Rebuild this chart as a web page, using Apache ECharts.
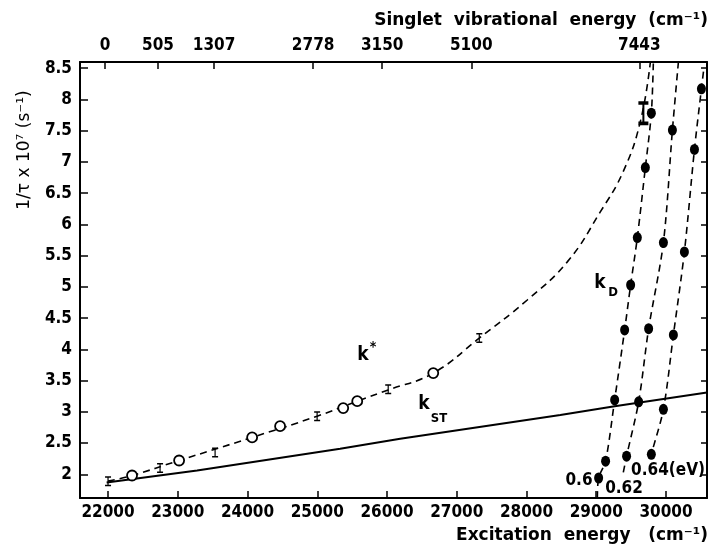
<!DOCTYPE html>
<html><head><meta charset="utf-8">
<script src="https://cdn.jsdelivr.net/npm/echarts@6/dist/echarts.min.js"></script>
<style>html,body{margin:0;padding:0;background:#fff}#c{width:710px;height:546px}</style>
</head><body><div id="c"></div>
<script>
// ---- data ----
const xTickValues = [22000,23000,24000,25000,26000,27000,28000,29000,30000];
const yTickValues = [2,2.5,3,3.5,4,4.5,5,5.5,6,6.5,7,7.5,8,8.5];
const topTickExcitation = [21957,22717,23521,24941,25931,27208,29618];
const topTickLabels = ['0','505','1307','2778','3150','5100','7443'];

const kStarCurve = [[22000,1.89],[22344,1.98],[23019,2.22],[24066,2.59],[24998,2.93],[25573,3.17],[26017,3.35],[26663,3.62],[27323,4.18],[28011,4.79],[28585,5.4],[29058,6.2],[29388,6.85],[29633,7.65],[29776,8.6]];
const kStarCircles = [[22344,1.98],[23019,2.22],[24066,2.59],[24467,2.77],[25372,3.06],[25573,3.17],[26663,3.62]];
const kStarBars = [[22000,1.89],[22746,2.10],[23535,2.35],[24998,2.93],[26017,3.36],[27323,4.18]];
const kStarBigBar = [[29676,7.78]];

const kSTLine = [[21980,1.87],[23277,2.06],[25328,2.41],[26189,2.57],[28485,2.95],[29264,3.09],[30588,3.31]];

const kD060Curve = [[29016,1.62],[29034,1.94],[29134,2.21],[29264,3.19],[29407,4.31],[29493,5.03],[29589,5.79],[29704,6.91],[29790,7.78],[29819,8.6]];
const kD060Dots = [[29034,1.94],[29134,2.21],[29264,3.19],[29407,4.31],[29493,5.03],[29589,5.79],[29704,6.91],[29790,7.78]];
const kD062Curve = [[29388,2.03],[29435,2.29],[29608,3.16],[29751,4.33],[29963,5.71],[30092,7.51],[30178,8.6]];
const kD062Dots = [[29435,2.29],[29608,3.16],[29751,4.33],[29963,5.71],[30092,7.51]];
const kD064Curve = [[29777,2.25],[29790,2.32],[29963,3.04],[30106,4.23],[30264,5.56],[30408,7.20],[30508,8.17],[30538,8.45]];
const kD064Dots = [[29790,2.32],[29963,3.04],[30106,4.23],[30264,5.56],[30408,7.20],[30508,8.17]];

// ---- chart ----
const F = "'DejaVu Sans Condensed','DejaVu Sans',sans-serif";
const FT = "'DejaVu Sans','DejaVu Sans Condensed',sans-serif";
const chart = echarts.init(document.getElementById('c'), null, {renderer:'canvas'});
const XMIN = 21598, XMAX = 30588, YMIN = 1.62, YMAX = 8.6;
const axLine = {show:true, lineStyle:{color:'#000', width:2}};
const dash = {color:'#000', width:1.6, type:[7,5]};
const barPath = 'path://M0,0H10V1.8H6V10.2H10V12H0V10.2H4V1.8H0Z';
const tickLab = {color:'#000', fontFamily:F, fontWeight:'bold', fontSize:17};

const option = {
  animation:false,
  backgroundColor:'#fff',
  grid:{left:80, right:3, top:62, bottom:48, containLabel:false},
  xAxis:[
    {type:'value', min:XMIN, max:XMAX, position:'bottom', axisLine:axLine,
     splitLine:{show:false},
     axisTick:{show:true, inside:true, length:7, customValues:xTickValues, lineStyle:{color:'#000',width:1.5}},
     axisLabel:Object.assign({customValues:xTickValues, margin:6, formatter:function(v){return String(v);}}, tickLab)},
    {type:'value', min:XMIN, max:XMAX, position:'top', axisLine:axLine,
     splitLine:{show:false},
     axisTick:{show:true, inside:true, length:7, customValues:topTickExcitation, lineStyle:{color:'#000',width:1.5}},
     axisLabel:Object.assign({customValues:topTickExcitation, margin:8,
       formatter:function(v){const i=topTickExcitation.indexOf(v); return i>=0?topTickLabels[i]:'';}}, tickLab)}
  ],
  yAxis:[
    {type:'value', min:YMIN, max:YMAX, position:'left', axisLine:axLine,
     splitLine:{show:false},
     axisTick:{show:true, inside:true, length:8, customValues:yTickValues, lineStyle:{color:'#000',width:1.5}},
     axisLabel:Object.assign({customValues:yTickValues, margin:8, formatter:function(v){return String(v);}}, tickLab)},
    {type:'value', min:YMIN, max:YMAX, position:'right', axisLine:axLine,
     splitLine:{show:false},
     axisTick:{show:true, inside:true, length:6, customValues:yTickValues, lineStyle:{color:'#000',width:1.5}},
     axisLabel:{show:false}}
  ],
  series:[
    {type:'line', data:kSTLine, symbol:'none', lineStyle:{color:'#000', width:2}, z:2},
    {type:'line', data:kStarCurve, symbol:'none', smooth:0.45, lineStyle:dash, z:2},
    {type:'line', data:kD060Curve, symbol:'none', smooth:0.3, lineStyle:dash, z:2},
    {type:'line', data:kD062Curve, symbol:'none', smooth:0.3, lineStyle:dash, z:2},
    {type:'line', data:kD064Curve, symbol:'none', smooth:0.3, lineStyle:dash, z:2},
    {type:'scatter', data:kStarCircles, symbol:'circle', symbolSize:10,
     itemStyle:{color:'#fff', borderColor:'#000', borderWidth:1.8, opacity:1}, z:5},
    {type:'scatter', data:kStarBars, symbol:barPath, symbolSize:[6,10], itemStyle:{color:'#000', opacity:1}, z:5},
    {type:'scatter', data:kStarBigBar, symbol:barPath, symbolSize:[10,24], itemStyle:{color:'#000', opacity:1}, z:5},
    {type:'scatter', data:kD060Dots, symbol:'circle', symbolSize:[9,11], itemStyle:{color:'#000', opacity:1}, z:5},
    {type:'scatter', data:kD062Dots, symbol:'circle', symbolSize:[9,11], itemStyle:{color:'#000', opacity:1}, z:5},
    {type:'scatter', data:kD064Dots, symbol:'circle', symbolSize:[9,11], itemStyle:{color:'#000', opacity:1}, z:5}
  ],
  graphic:[
    {type:'text', x:708, y:21, style:{text:'Singlet  vibrational  energy  (cm\u207B\u00B9)', fill:'#000', font:"bold 17px "+FT, textAlign:'right', textVerticalAlign:'middle'}},
    {type:'text', x:708, y:536, style:{text:'Excitation  energy   (cm\u207B\u00B9)', fill:'#000', font:"bold 17px "+FT, textAlign:'right', textVerticalAlign:'middle'}},
    {type:'text', x:25, y:150, rotation:Math.PI/2, style:{text:'1/\u03C4 x 10\u2077 (s\u207B\u00B9)', fill:'#000', font:"17px "+FT, textAlign:'center', textVerticalAlign:'middle'}},
    {type:'text', x:363, y:355, style:{text:'k', fill:'#000', font:"bold 19px "+F, textAlign:'center', textVerticalAlign:'middle'}},
    {type:'text', x:373, y:347, style:{text:'*', fill:'#000', font:"bold 14px "+F, textAlign:'center', textVerticalAlign:'middle'}},
    {type:'text', x:424, y:404, style:{text:'k', fill:'#000', font:"bold 19px "+F, textAlign:'center', textVerticalAlign:'middle'}},
    {type:'text', x:439, y:419, style:{text:'ST', fill:'#000', font:"bold 13px "+F, textAlign:'center', textVerticalAlign:'middle'}},
    {type:'text', x:600, y:283, style:{text:'k', fill:'#000', font:"bold 19px "+F, textAlign:'center', textVerticalAlign:'middle'}},
    {type:'text', x:613, y:293, style:{text:'D', fill:'#000', font:"bold 13px "+F, textAlign:'center', textVerticalAlign:'middle'}},
    {type:'text', x:579, y:481, style:{text:'0.6', fill:'#000', font:"bold 17px "+F, textAlign:'center', textVerticalAlign:'middle'}},
    {type:'text', x:624, y:489, style:{text:'0.62', fill:'#000', font:"bold 17px "+F, textAlign:'center', textVerticalAlign:'middle'}},
    {type:'text', x:668, y:471, style:{text:'0.64(eV)', fill:'#000', font:"bold 17px "+F, textAlign:'center', textVerticalAlign:'middle'}}
  ]
};
chart.setOption(option);
</script>
</body></html>
